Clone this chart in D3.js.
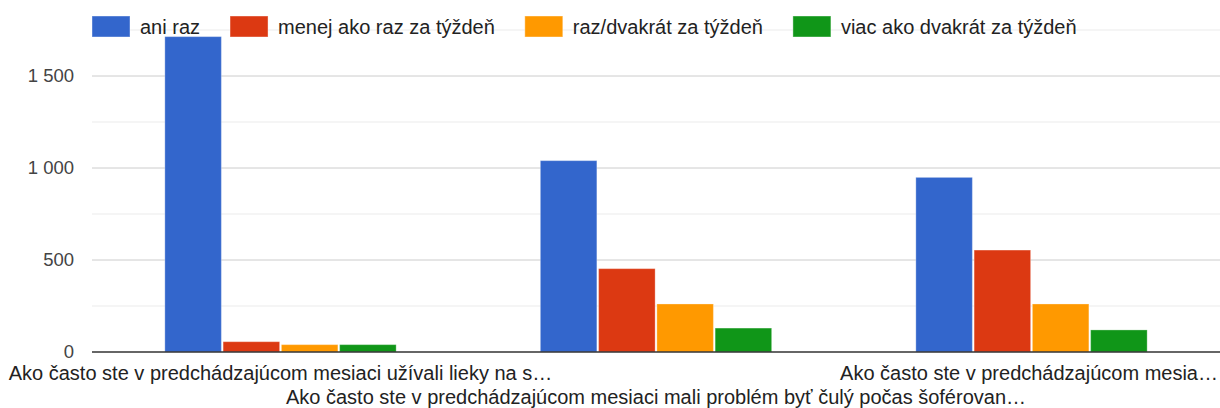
<!DOCTYPE html>
<html>
<head>
<meta charset="utf-8">
<script src="https://cdn.jsdelivr.net/npm/d3@7"></script>
<style>
  body { margin: 0; background: #fff; }
  text { font-family: "Liberation Sans", Arial, sans-serif; }
</style>
</head>
<body>
<svg></svg>
<script>
let width = 1220, height = 408;

// data
let categories = [
    "Ako často ste v predchádzajúcom mesiaci užívali lieky na s…",
    "Ako často ste v predchádzajúcom mesiaci mali problém byť čulý počas šoférovan…",
    "Ako často ste v predchádzajúcom mesia…"
];
let series = ["ani raz", "menej ako raz za týždeň", "raz/dvakrát za týždeň", "viac ako dvakrát za týždeň"];
let aniRaz = [1714, 1040, 949];
let menejAkoRaz = [56, 453, 554];
let razDvakrat = [40, 261, 261];
let viacAkoDvakrat = [40, 130, 120];
let yTicks = [0, 500, 1000, 1500];
let yMinorTicks = [250, 750, 1250, 1750];
let colors = ["#3366cc", "#dc3912", "#ff9900", "#109618"];

let values = [aniRaz, menejAkoRaz, razDvakrat, viacAkoDvakrat];

let svg = d3.select("svg")
    .attr("width", width)
    .attr("height", height);

let x0 = d3.scaleBand()
    .domain(categories)
    .range([92.75, 1219.25]);

let groupW = x0.bandwidth() * 0.616;
let x1 = d3.scaleBand()
    .domain(series)
    .range([0, groupW])
    .paddingInner(0.03);

let y = d3.scaleLinear()
    .domain([0, 1750])
    .range([352, 30]);

// gridlines
svg.append("g")
    .selectAll("line")
    .data(yMinorTicks)
    .enter()
    .append("line")
    .attr("x1", 92).attr("x2", width)
    .attr("y1", d => y(d)).attr("y2", d => y(d))
    .attr("stroke", "#ebebeb")
    .attr("stroke-width", 1);

svg.append("g")
    .selectAll("line")
    .data(yTicks.slice(1))
    .enter()
    .append("line")
    .attr("x1", 92).attr("x2", width)
    .attr("y1", d => y(d)).attr("y2", d => y(d))
    .attr("stroke", "#cccccc")
    .attr("stroke-width", 1);

// y labels
let yAxis = d3.axisLeft(y).tickValues(yTicks).tickSize(0).tickPadding(0)
    .tickFormat(d => d3.format(",")(d).replace(",", " "));
let ya = svg.append("g")
    .attr("transform", "translate(74,0)")
    .call(yAxis);
ya.select(".domain").remove();
ya.selectAll("text")
    .attr("font-family", "'Liberation Sans', Arial, sans-serif")
    .attr("font-size", 18.5)
    .attr("dy", "0.3em")
    .attr("fill", "#444");

// bars
svg.append("g")
    .selectAll("g")
    .data(categories)
    .enter()
    .append("g")
    .attr("transform", (d, i) => "translate(" + (x0(d) + (x0.bandwidth() - groupW) / 2) + ",0)")
    .selectAll("rect")
    .data((d, i) => series.map((s, j) => ({s: s, v: values[j][i], c: colors[j]})))
    .enter()
    .append("rect")
    .attr("x", d => x1(d.s))
    .attr("width", x1.bandwidth())
    .attr("y", d => y(d.v))
    .attr("height", d => y(0) - y(d.v))
    .attr("fill", d => d.c)
    .attr("stroke", "#ffffff")
    .attr("stroke-opacity", 0.3)
    .attr("stroke-width", 1);

// baseline
svg.append("line")
    .attr("x1", 92).attr("x2", width)
    .attr("y1", y(0)).attr("y2", y(0))
    .attr("stroke", "#333")
    .attr("stroke-width", 1.5);

// category labels
svg.append("g")
    .selectAll("text")
    .data(categories)
    .enter()
    .append("text")
    .attr("x", d => x0(d) + x0.bandwidth() / 2)
    .attr("y", (d, i) => i % 2 == 0 ? 379.5 : 403.5)
    .attr("text-anchor", "middle")
    .attr("font-size", 20)
    .attr("fill", "#222")
    .text(d => d)
    .each(function() {
        let w = this.getComputedTextLength();
        let cx = +d3.select(this).attr("x");
        if (cx + w / 2 > width - 2) {
            d3.select(this).attr("text-anchor", "end").attr("x", width - 2);
        }
    });

// legend
let lx = 92;
let legend = svg.append("g");
series.forEach((s, i) => {
    legend.append("rect")
        .attr("x", lx).attr("y", 16)
        .attr("width", 38).attr("height", 21)
        .attr("fill", colors[i])
        .attr("stroke", "#ffffff")
        .attr("stroke-opacity", 0.4);
    let t = legend.append("text")
        .attr("x", lx + 48).attr("y", 34)
        .attr("font-size", 20)
        .attr("fill", "#222")
        .text(s);
    lx += 48 + t.node().getComputedTextLength() + 30;
});
</script>
</body>
</html>
